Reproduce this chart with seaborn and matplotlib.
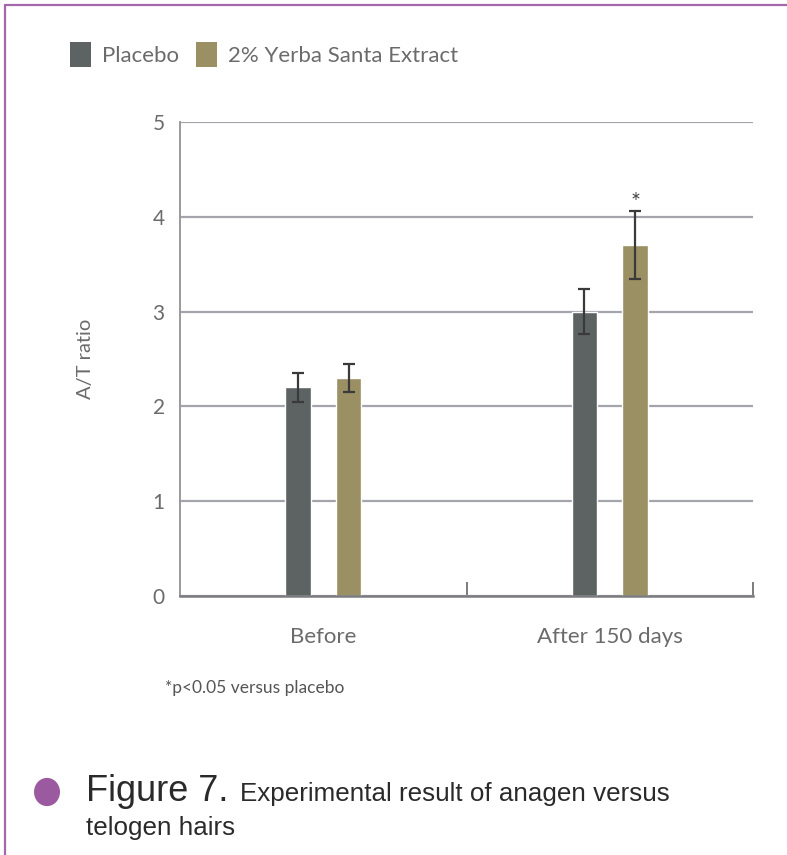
import matplotlib
matplotlib.use("Agg")
import matplotlib.pyplot as plt
from matplotlib.patches import Circle, Patch
from matplotlib.lines import Line2D
import seaborn as sns
import pandas as pd

# Data
timepoints = ["Before", "After 150 days"]
groups = ["Placebo", "2% Yerba Santa Extract"]
placebo_mean = [2.2, 3.0]
placebo_err = [0.15, 0.24]
yerba_mean = [2.3, 3.7]
yerba_err = [0.15, 0.36]
yticks = [0, 1, 2, 3, 4, 5]

df = pd.DataFrame({
    "time": timepoints * 2,
    "group": [groups[0]] * 2 + [groups[1]] * 2,
    "ratio": placebo_mean + yerba_mean,
    "err": placebo_err + yerba_err,
})

sns.set_theme(style="white")
plt.rcParams["font.family"] = ["Lato", "DejaVu Sans"]

colors = {groups[0]: "#5d6363", groups[1]: "#9a9064"}
text_grey = "#6b6b6b"
frame_purple = "#a467ab"

fig = plt.figure(figsize=(7.87, 8.55), dpi=100)
ax = fig.add_axes([180 / 787, 1 - 596 / 855, (753 - 180) / 787, (596 - 122) / 855])

sns.barplot(data=df, x="time", y="ratio", hue="group", order=timepoints,
            hue_order=groups, palette=colors, width=0.356, gap=0.5,
            errorbar=None, legend=False, ax=ax, saturation=1)

# Error bars at the centre of every bar
bars = [p for p in ax.patches if p.get_height() > 0]
for g_i, g in enumerate(groups):
    sub = df[df["group"] == g].set_index("time").loc[timepoints]
    for t_i, t in enumerate(timepoints):
        bar = bars[g_i * len(timepoints) + t_i]
        xc = bar.get_x() + bar.get_width() / 2
        ax.errorbar(xc, sub.loc[t, "ratio"], yerr=sub.loc[t, "err"], fmt="none",
                    ecolor="#3a3a3a", elinewidth=1.6, capsize=4, capthick=1.6, zorder=4)
        if g_i == 1 and t_i == 1:
            ax.text(xc, sub.loc[t, "ratio"] + sub.loc[t, "err"] - 0.02, "*",
                    ha="center", va="bottom", fontsize=17, color="#444444")

ax.set_xlim(-0.5, 1.5)
ax.set_ylim(0, 5)
ax.set_yticks(yticks)
ax.set_yticklabels([str(v) for v in yticks])
ax.yaxis.grid(True, color="#a4a4ac", linewidth=1.6)
ax.set_axisbelow(True)

for s in ["top", "right"]:
    ax.spines[s].set_visible(False)
ax.spines["left"].set_color("#9a9a9a")
ax.spines["left"].set_linewidth(1.4)
ax.spines["bottom"].set_color("#7c7c80")
ax.spines["bottom"].set_linewidth(1.8)

ax.tick_params(axis="y", length=0, pad=11, labelsize=15, labelcolor=text_grey)
ax.tick_params(axis="x", which="major", length=0, pad=22, labelsize=16, labelcolor=text_grey)
ax.set_xticks([0.5, 1.5], minor=True)
ax.tick_params(axis="x", which="minor", bottom=True, direction="in", length=10,
               width=1.4, color="#7c7c80")

ax.set_xlabel("")
ax.set_ylabel("A/T ratio", fontsize=14.5, color=text_grey, labelpad=42)

# Legend
handles = [Patch(facecolor=colors[g], edgecolor="none") for g in groups]
fig.legend(handles, groups, loc="upper left", bbox_to_anchor=(50 / 787, 1 - 22 / 855),
           ncol=2, frameon=False, fontsize=16, labelcolor=text_grey,
           handletextpad=0.5, columnspacing=0.75, handlelength=0.95, handleheight=1.35)

# Footnote
fig.text(165 / 787, 1 - 688 / 855, "*p<0.05 versus placebo", fontsize=12.5,
         color="#555555", va="center", ha="left")

# Caption
cap_font = ["Liberation Sans Narrow", "Liberation Sans", "DejaVu Sans"]
fig.patches.append(Circle((47 / 787, 1 - 792 / 855), 13 / 787, transform=fig.transFigure,
                          facecolor="#9b5a9f", edgecolor="none"))
fig.text(86 / 787, 1 - 801 / 855, "Figure 7.", fontsize=26, family=cap_font,
         color="#2a2a2a", va="baseline", ha="left")
fig.text(240 / 787, 1 - 801 / 855, "Experimental result of anagen versus", fontsize=18.7,
         family=cap_font, color="#2a2a2a", va="baseline", ha="left")
fig.text(86 / 787, 1 - 835 / 855, "telogen hairs", fontsize=18.7,
         family=cap_font, color="#2a2a2a", va="baseline", ha="left")

# Page frame lines
fig.add_artist(Line2D([5 / 787, 1.0], [1 - 5 / 855, 1 - 5 / 855], transform=fig.transFigure,
                      color=frame_purple, linewidth=1.6))
fig.add_artist(Line2D([5 / 787, 5 / 787], [0, 1 - 5 / 855], transform=fig.transFigure,
                      color=frame_purple, linewidth=1.6))

fig.savefig("out.png", dpi=100)
